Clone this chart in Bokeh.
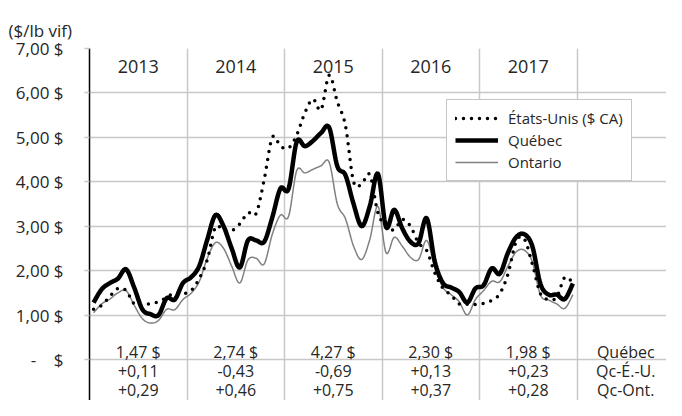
from bokeh.plotting import figure
from bokeh.models import (Range1d, FixedTicker, Grid, Legend, LegendItem)
from bokeh.core.properties import value
from bokeh.embed import file_html
from bokeh.resources import INLINE

# ---------------- data ----------------
years = [2013, 2014, 2015, 2016, 2017]

etats_unis = [
    1.13, 1.22, 1.42, 1.60, 1.55, 1.25, 1.22, 1.26, 1.30, 1.40, 1.50, 1.48,
    1.55, 1.82, 2.25, 2.98, 2.90, 2.90, 3.05, 3.30, 3.28, 4.05, 5.00, 4.80,
    4.76, 5.05, 5.55, 5.86, 5.62, 6.40, 5.80, 5.27, 4.00, 3.95, 4.16, 3.30,
    3.00, 2.92, 3.15, 3.00, 2.62, 2.45, 1.95, 1.60, 1.45, 1.25, 1.24, 1.24,
    1.26, 1.33, 1.48, 1.92, 2.65, 2.72, 2.15, 1.48, 1.35, 1.40, 1.85, 1.72]

quebec = [
    1.28, 1.58, 1.72, 1.82, 2.03, 1.62, 1.13, 1.02, 1.00, 1.38, 1.35, 1.72,
    1.85, 2.10, 2.70, 3.25, 3.00, 2.50, 2.07, 2.68, 2.68, 2.65, 3.20, 3.85,
    3.84, 4.90, 4.80, 4.92, 5.10, 5.22, 4.35, 4.15, 3.50, 3.00, 3.45, 4.18,
    2.98, 3.37, 2.95, 2.65, 2.62, 3.18, 2.20, 1.72, 1.62, 1.52, 1.28, 1.60,
    1.67, 2.05, 1.93, 2.40, 2.75, 2.82, 2.55, 1.70, 1.46, 1.46, 1.36, 1.71]

ontario = [
    1.05, 1.25, 1.36, 1.50, 1.55, 1.22, 0.92, 0.82, 0.88, 1.13, 1.12, 1.35,
    1.49, 1.75, 2.28, 2.63, 2.50, 2.10, 1.72, 2.24, 2.28, 2.15, 2.82, 3.25,
    3.22, 4.25, 4.20, 4.28, 4.36, 4.44, 3.50, 3.17, 2.55, 2.25, 2.70, 3.45,
    2.40, 2.75, 2.55, 2.30, 2.25, 2.68, 2.08, 1.62, 1.46, 1.30, 1.00, 1.35,
    1.55, 1.76, 1.75, 2.10, 2.42, 2.46, 2.20, 1.45, 1.34, 1.25, 1.15, 1.46]

quebec_moy = [1.47, 2.74, 4.27, 2.30, 1.98]
ecart_us = [0.11, -0.43, -0.69, 0.13, 0.23]
ecart_ont = [0.29, 0.46, 0.75, 0.37, 0.28]
row_labels = ["Québec", "Qc-É.-U.", "Qc-Ont."]
y_ticks = [0, 1, 2, 3, 4, 5, 6, 7]

# ---------------- helpers ----------------
FONT = "Open Sans"
TXT = "#262626"


def fr(v, dec=2):
    return f"{v:.{dec}f}".replace(".", ",")


def signed(v):
    return ("+" if v >= 0 else "-") + fr(abs(v))


def smooth(xs, ys, n=10):
    """Excel-like smoothed drawing path through the data points."""
    P = [(xs[0], ys[0])] + list(zip(xs, ys)) + [(xs[-1], ys[-1])]
    ox, oy = [xs[0]], [ys[0]]
    for i in range(1, len(P) - 2):
        p0, p1, p2, p3 = P[i - 1], P[i], P[i + 1], P[i + 2]
        c1 = (p1[0] + (p2[0] - p0[0]) / 6, p1[1] + (p2[1] - p0[1]) / 6)
        c2 = (p2[0] - (p3[0] - p1[0]) / 6, p2[1] - (p3[1] - p1[1]) / 6)
        for k in range(1, n + 1):
            t = k / n
            a, b, c, d = (1 - t) ** 3, 3 * t * (1 - t) ** 2, 3 * t * t * (1 - t), t ** 3
            ox.append(a * p1[0] + b * c1[0] + c * c2[0] + d * p2[0])
            oy.append(a * p1[1] + b * c1[1] + c * c2[1] + d * p2[1])
    return ox, oy


x_month = [y + (m + 0.5) / 12 for y in years for m in range(12)]

# ---------------- figure ----------------
W, H = 666, 400
LEFT, TOP = 89, 48
YEAR_PX = 97.5
p = figure(width=W, height=H, output_backend="svg", toolbar_location=None,
           x_range=Range1d(2013, 2013 + (W - LEFT) / YEAR_PX),
           y_range=Range1d(-0.924, 7.0),
           x_axis_location=None,
           min_border_left=LEFT, min_border_right=0,
           min_border_top=TOP, min_border_bottom=0)
p.outline_line_color = None
p.background_fill_color = "white"
p.border_fill_color = "white"

# unit label as title
p.title.text = "($/lb vif)"
p.title.align = "left"
p.title.vertical_align = "top"
p.title.offset = -(LEFT - 8)
p.title.standoff = 10
p.title.text_font = FONT
p.title.text_font_size = "17px"
p.title.text_font_style = "normal"
p.title.text_color = TXT

# y axis
ax = p.yaxis[0]
ax.ticker = FixedTicker(ticks=y_ticks)
ax.major_label_overrides = {t: ("-\u00a0\u00a0\u00a0\u00a0$" if t == 0 else fr(t) + "\u00a0$")
                            for t in y_ticks}
ax.axis_line_color = "black"
ax.axis_line_width = 1.5
ax.major_tick_line_color = "#c8c8c8"
ax.major_tick_line_width = 1.5
ax.major_tick_out = 5
ax.major_tick_in = 0
ax.minor_tick_line_color = None
ax.major_label_standoff = 21
ax.major_label_text_font = FONT
ax.major_label_text_font_size = "17px"
ax.major_label_text_color = TXT

p.ygrid.ticker = FixedTicker(ticks=y_ticks)
p.ygrid.grid_line_color = "#c8c8c8"
p.ygrid.grid_line_width = 1.5

vgrid = Grid(dimension=0, ticker=FixedTicker(ticks=years[1:] + [years[-1] + 1]),
             grid_line_color="#c8c8c8", grid_line_width=1.5)
p.add_layout(vgrid)

# lines
xo, yo = smooth(x_month, ontario)
r_ont = p.line(xo, yo, line_color="#808080", line_width=1.5)
xu, yu = smooth(x_month, etats_unis)
r_us = p.line(xu, yu, line_color="black", line_width=3.5, line_dash="0 8",
              line_cap="round")
xq, yq = smooth(x_month, quebec)
r_qc = p.line(xq, yq, line_color="black", line_width=4.5, line_join="round")

# year labels inside plot
centers = [y + 0.5 for y in years]
p.text(x=centers, y=[6.60] * len(years), text=[str(y) for y in years],
       text_align="center", text_baseline="middle", text_font=value(FONT),
       text_font_size="18px", text_color=TXT)

# bottom table
rows_y = [0.16, -0.27, -0.68]
tbl = dict(text_align="center", text_baseline="middle", text_font=value(FONT),
           text_font_size="16px", text_color=TXT)
p.text(x=centers, y=[rows_y[0]] * 5, text=[fr(v) + " $" for v in quebec_moy], **tbl)
p.text(x=centers, y=[rows_y[1]] * 5, text=[signed(v) for v in ecart_us], **tbl)
p.text(x=centers, y=[rows_y[2]] * 5, text=[signed(v) for v in ecart_ont], **tbl)
p.text(x=[years[-1] + 1.5] * 3, y=rows_y, text=row_labels, **tbl)

# legend
legend = Legend(items=[LegendItem(label="États-Unis ($ CA)", renderers=[r_us]),
                       LegendItem(label="Québec", renderers=[r_qc]),
                       LegendItem(label="Ontario", renderers=[r_ont])],
                location=(357, 219), orientation="vertical",
                padding=8, spacing=2, margin=0,
                glyph_width=43, glyph_height=20, label_height=20,
                label_standoff=10,
                label_text_font=FONT, label_text_font_size="15px",
                label_text_color=TXT,
                border_line_color="#8c8c8c", border_line_width=1,
                background_fill_color="white", background_fill_alpha=1)
p.add_layout(legend)

open("out.html", "w").write(file_html(p, INLINE))
